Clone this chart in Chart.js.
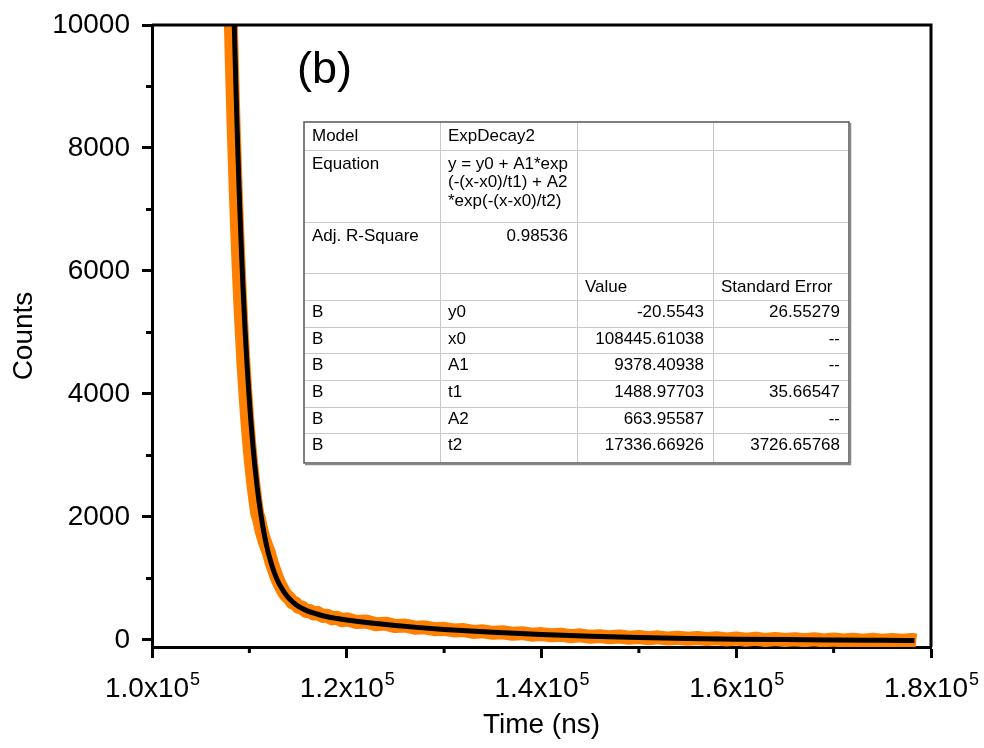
<!DOCTYPE html>
<html>
<head>
<meta charset="utf-8">
<title>Decay fit (b)</title>
<script src="https://cdn.jsdelivr.net/npm/chart.js@4/dist/chart.umd.min.js"></script>
<style>
  body { margin: 0; background: #fff; }
  canvas { display: block; }
</style>
</head>
<body>
<canvas id="decayChart" width="984" height="748"></canvas>
<script>
const decayTime = [107900, 108000, 108200, 108400, 108600, 108800, 109000, 109200, 109400, 109600,
  109800, 110000, 110200, 110400, 110600, 110800, 111000, 111200, 111400, 111600,
  111800, 112000, 112300, 112600, 112900, 113200, 113500, 113800, 114100, 114400,
  114700, 115000, 115400, 115800, 116200, 116600, 117000, 117500, 118000, 118500,
  119000, 119500, 120000, 121000, 122000, 123000, 124000, 125000, 126000, 127000,
  128000, 129000, 130000, 131000, 132000, 133000, 134000, 135000, 136000, 137000,
  138000, 139000, 140000, 141000, 142000, 143000, 144000, 145000, 146000, 147000,
  148000, 149000, 150000, 151000, 152000, 153000, 154000, 155000, 156000, 157000,
  158000, 159000, 160000, 161000, 162000, 163000, 164000, 165000, 166000, 167000,
  168000, 169000, 170000, 171000, 172000, 173000, 174000, 175000, 176000, 177000,
  178000, 178500];
const decayCounts = [11900, 10650, 9380, 8270, 7300, 6450, 5700, 5060, 4480, 3990,
  3550, 3170, 2840, 2550, 2290, 2060, 1960, 1810, 1690, 1590,
  1500, 1420, 1250, 1110, 980, 880, 790, 720, 680, 610,
  600, 540, 530, 470, 470, 430, 440, 390, 395, 350,
  360, 320, 335, 290, 300, 255, 265, 225, 235, 200,
  205, 175, 180, 155, 160, 130, 140, 115, 125, 100,
  110, 85, 95, 75, 85, 60, 75, 50, 62, 42,
  55, 35, 48, 28, 42, 22, 36, 18, 32, 14,
  26, 8, 22, 4, 18, 0, 14, -2, 12, -5,
  10, -8, 6, -10, 4, -12, 2, -12, 0, -14,
  -2, -10];

// ExpDecay2 fit curve (black)
const fitTime = [108400, 108600, 108800, 109000, 109200, 109400, 109600, 109800, 110000, 110200,
  110400, 110600, 110800, 111000, 111200, 111400, 111600, 111800, 112000, 112500,
  113000, 113500, 114000, 114500, 115000, 116000, 117000, 118000, 119000, 120000,
  122500, 125000, 127500, 130000, 135000, 140000, 145000, 150000, 155000, 160000,
  165000, 170000, 175000, 178300];
const fitCounts = [10315, 9093, 8022, 7087, 6265, 5549, 4921, 4371, 3889, 3466,
  3096, 2773, 2488, 2240, 2020, 1829, 1660, 1512, 1382, 1121,
  930, 795, 686, 610, 549, 468, 418, 377, 348, 324,
  275, 235, 200, 171, 123, 87, 60, 40, 25, 13,
  5, -1, -6, -9];

const xTickValues = [100000, 120000, 140000, 160000, 180000];
const xMinorValues = [110000, 130000, 150000, 170000];
const yTickValues = [0, 2000, 4000, 6000, 8000, 10000];
const yMinorValues = [1000, 3000, 5000, 7000, 9000];

const panelLabel = '(b)';
const tableRows = [
  ['Model', 'ExpDecay2', '', ''],
  ['Equation', 'y = y0 + A1*exp\n(-(x-x0)/t1) + A2\n*exp(-(x-x0)/t2)', '', ''],
  ['Adj. R-Square', '0.98536', '', ''],
  ['', '', 'Value', 'Standard Error'],
  ['B', 'y0', '-20.5543', '26.55279'],
  ['B', 'x0', '108445.61038', '--'],
  ['B', 'A1', '9378.40938', '--'],
  ['B', 't1', '1488.97703', '35.66547'],
  ['B', 'A2', '663.95587', '--'],
  ['B', 't2', '17336.66926', '3726.65768']
];

const FONT = '"Liberation Sans", Arial, sans-serif';

const extras = {
  id: 'extras',
  afterDraw(chart) {
    const { ctx, chartArea: a, scales: { x, y } } = chart;
    ctx.save();

    // top + right frame
    ctx.strokeStyle = '#000';
    ctx.lineWidth = 3;
    ctx.beginPath();
    ctx.moveTo(a.left, a.top);
    ctx.lineTo(a.right, a.top);
    ctx.lineTo(a.right, a.bottom);
    ctx.stroke();

    // minor ticks
    ctx.beginPath();
    xMinorValues.forEach(v => {
      const px = x.getPixelForValue(v);
      ctx.moveTo(px, a.bottom);
      ctx.lineTo(px, a.bottom + 6);
    });
    yMinorValues.forEach(v => {
      const py = y.getPixelForValue(v);
      ctx.moveTo(a.left, py);
      ctx.lineTo(a.left - 6, py);
    });
    ctx.stroke();

    // x tick labels with superscript exponent
    ctx.fillStyle = '#000';
    ctx.textBaseline = 'alphabetic';
    ctx.textAlign = 'left';
    xTickValues.forEach(v => {
      const px = x.getPixelForValue(v);
      const main = (v / 1e5).toFixed(1) + 'x10';
      ctx.font = '28px ' + FONT;
      const w1 = ctx.measureText(main).width;
      ctx.font = '18px ' + FONT;
      const w2 = ctx.measureText('5').width;
      const start = px - (w1 + w2) / 2;
      ctx.font = '28px ' + FONT;
      ctx.fillText(main, start, 697);
      ctx.font = '18px ' + FONT;
      ctx.fillText('5', start + w1 + 1, 685);
    });

    // panel label
    ctx.font = '45px ' + FONT;
    ctx.fillText(panelLabel, 297, 83);

    // fit parameter table
    const colX = [304, 440, 577, 713, 849];
    const rowY = [122, 150, 222, 273, 300, 327, 353, 380, 407, 433, 463];
    ctx.fillStyle = '#fff';
    ctx.fillRect(colX[0], rowY[0], colX[4] - colX[0], rowY[10] - rowY[0]);
    ctx.strokeStyle = '#c8c8c8';
    ctx.lineWidth = 1;
    ctx.beginPath();
    rowY.slice(1, -1).forEach(ry => {
      ctx.moveTo(colX[0], ry + 0.5);
      ctx.lineTo(colX[4], ry + 0.5);
    });
    colX.slice(1, -1).forEach(cx => {
      ctx.moveTo(cx + 0.5, rowY[0]);
      ctx.lineTo(cx + 0.5, rowY[10]);
    });
    ctx.stroke();
    ctx.strokeStyle = '#555';
    ctx.lineWidth = 1.5;
    ctx.strokeRect(colX[0], rowY[0], colX[4] - colX[0], rowY[10] - rowY[0]);
    ctx.strokeStyle = '#888';
    ctx.beginPath();
    ctx.moveTo(colX[4] + 1.5, rowY[0] + 1);
    ctx.lineTo(colX[4] + 1.5, rowY[10] + 1.5);
    ctx.lineTo(colX[0] + 1, rowY[10] + 1.5);
    ctx.stroke();

    ctx.fillStyle = '#000';
    ctx.font = '17px ' + FONT;
    tableRows.forEach((row, r) => {
      const base = rowY[r] + (r < 4 ? 19 : 17);
      row.forEach((cell, c) => {
        if (!cell) return;
        const numeric = /^-?[\d.]+$|^--$/.test(cell);
        ctx.textAlign = numeric ? 'right' : 'left';
        const tx = numeric ? colX[c + 1] - 9 : colX[c] + 8;
        cell.split('\n').forEach((line, i) => {
          ctx.fillText(line, tx, base + i * 18.3);
        });
      });
    });

    ctx.restore();
  }
};

new Chart(document.getElementById('decayChart'), {
  type: 'line',
  data: {
    datasets: [
      {
        label: 'ExpDecay2 fit',
        data: fitTime.map((t, i) => ({ x: t, y: fitCounts[i] })),
        borderColor: '#000',
        borderWidth: 5,
        pointRadius: 0,
        cubicInterpolationMode: 'monotone',
        clip: 0,
        order: 0
      },
      {
        label: 'Counts',
        data: decayTime.map((t, i) => ({ x: t, y: decayCounts[i] })),
        borderColor: '#ff8000',
        borderWidth: 14,
        borderJoinStyle: 'round',
        borderCapStyle: 'butt',
        pointRadius: 0,
        tension: 0,
        clip: 0,
        order: 1
      }
    ]
  },
  options: {
    responsive: false,
    animation: false,
    layout: { autoPadding: false, padding: { top: 25, right: 53, left: 0, bottom: 0 } },
    plugins: {
      legend: { display: false },
      tooltip: { enabled: false }
    },
    scales: {
      x: {
        type: 'linear',
        min: 100000,
        max: 180000,
        afterBuildTicks: s => { s.ticks = xTickValues.map(v => ({ value: v })); },
        afterFit: s => { s.height = 101; s.paddingLeft = 0; s.paddingRight = 0; },
        border: { display: true, color: '#000', width: 3 },
        grid: { drawOnChartArea: false, drawTicks: true, tickLength: 11, tickColor: '#000', tickWidth: 3 },
        ticks: { display: false },
        title: {
          display: true,
          text: 'Time (ns)',
          color: '#000',
          font: { family: FONT, size: 28 },
          padding: { top: 0, bottom: 6 }
        }
      },
      y: {
        min: -115,
        max: 10000,
        afterBuildTicks: s => { s.ticks = yTickValues.map(v => ({ value: v })); },
        afterFit: s => { s.width = 152; s.paddingTop = 0; s.paddingBottom = 0; },
        border: { display: true, color: '#000', width: 3 },
        grid: { drawOnChartArea: false, drawTicks: true, tickLength: 10, tickColor: '#000', tickWidth: 3 },
        ticks: {
          color: '#000',
          padding: 12,
          font: { family: FONT, size: 28 },
          callback: v => String(v)
        },
        title: {
          display: true,
          text: 'Counts',
          color: '#000',
          font: { family: FONT, size: 28 },
          padding: { top: 7, bottom: 0 }
        }
      }
    }
  },
  plugins: [extras]
});
</script>
</body>
</html>
